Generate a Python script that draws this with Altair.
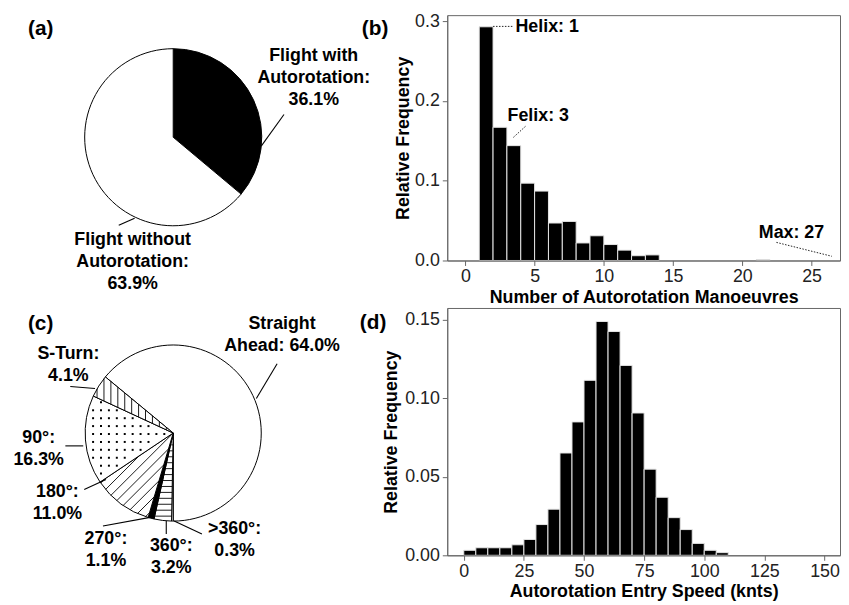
import math
import numpy as np
import pandas as pd
import altair as alt

# ---------------- data ----------------
# (a) share of flights
a_cats = ["Flight with Autorotation", "Flight without Autorotation"]
a_vals = [36.1, 63.9]
a_labels = ["Flight with\nAutorotation:\n36.1%", "Flight without\nAutorotation:\n63.9%"]

# (b) number of autorotation manoeuvres per flight
b_bin_start = [1, 2, 3, 4, 5, 6, 7, 8, 9, 10, 11, 12, 13, 21]
b_freq = [0.293, 0.167, 0.144, 0.097, 0.087, 0.047, 0.049, 0.022, 0.031, 0.020, 0.013, 0.006, 0.007, 0.001]
b_bin_width = 1
b_ticks = [0, 5, 10, 15, 20, 25]
b_yticks = [0.0, 0.1, 0.2, 0.3]
b_notes = ["Helix: 1", "Felix: 3", "Max: 27"]

# (c) manoeuvre type
c_cats = ["Straight Ahead", ">360°", "360°", "270°", "180°", "90°", "S-Turn"]
c_vals = [64.0, 0.3, 3.2, 1.1, 11.0, 16.3, 4.1]
c_labels = ["Straight\nAhead: 64.0%", ">360°:\n0.3%", "360°:\n3.2%", "270°:\n1.1%",
            "180°:\n11.0%", "90°:\n16.3%", "S-Turn:\n4.1%"]

# (d) autorotation entry speed
d_bin_start = list(range(0, 110, 5))
d_freq = [0.0032, 0.0048, 0.0048, 0.0048, 0.0067, 0.0101, 0.0196, 0.0294, 0.0652, 0.0850,
          0.1115, 0.1490, 0.1426, 0.1210, 0.0907, 0.0549, 0.0370, 0.0240, 0.0164, 0.0076,
          0.0032, 0.0017]
d_bin_width = 5
d_ticks = [0, 25, 50, 75, 100, 125, 150]
d_yticks = [0.00, 0.05, 0.10, 0.15]

# ---------------- layout / annotation placement ----------------
FONT = "Liberation Sans"
LEFT_W = 443
RIGHT_W = 397
TOP_H = 248
BOT_H = 250

a_fills = ["black", "white"]
# label anchors (centre of first text line), in pie-radius units from the pie centre
a_label_xy = [(1.587, 0.916), (-0.458, -1.162)]
a_leaders = [(0.994, -0.101, 1.251, 0.257), (-0.615, -0.994, -0.436, -0.916)]

c_fills = ["white", "white", "white", "black", "white", "white", "white"]
c_label_xy = [(1.236, 1.236), (0.697, -1.090), (-0.022, -1.281), (-0.764, -1.202),
              (-1.315, -0.674), (-1.528, -0.056), (-1.191, 0.899)]
c_leaders = [(0.944, 0.393, 1.180, 0.787), (0.011, -1.0, 0.326, -1.146),
             (-0.079, -1.0, -0.079, -1.146), (-0.798, -1.056, -0.247, -0.955),
             (-1.011, -0.640, -0.764, -0.528), (-1.225, -0.146, -1.022, -0.146),
             (-1.169, 0.528, -0.888, 0.506)]
# pattern per slice: (kind, angle of lines in deg, spacing in px)
c_patterns = {"360°": ("lines", 0, 6), "180°": ("lines", 45, 8),
              "S-Turn": ("lines", 90, 7), "90°": ("dots", 0, 8)}


def wedge_mask(px, py, a0, a1, margin=0.0):
    r = np.hypot(px, py)
    th = np.degrees(np.arctan2(px, py)) % 360
    ok = (r <= 1 - margin) & (th >= a0) & (th <= a1)
    if margin > 0:
        d0 = r * np.sin(np.radians(np.clip(th - a0, 0, 90)))
        d1 = r * np.sin(np.radians(np.clip(a1 - th, 0, 90)))
        ok &= (d0 >= margin) & (d1 >= margin)
    return ok


def hatch_lines(a0, a1, ang, spacing):
    d = np.array([math.cos(math.radians(ang)), math.sin(math.radians(ang))])
    n = np.array([-d[1], d[0]])
    t = np.linspace(-1.05, 1.05, 4201)
    segs = []
    kmax = int(1.1 / spacing) + 2
    for k in range(-kmax, kmax + 1):
        c = k * spacing
        px = n[0] * c + d[0] * t
        py = n[1] * c + d[1] * t
        m = wedge_mask(px, py, a0, a1)
        if m.sum() >= 3:
            i0 = int(np.argmax(m))
            i1 = len(m) - 1 - int(np.argmax(m[::-1]))
            segs.append((px[i0], py[i0], px[i1], py[i1]))
    return segs


def dot_grid(a0, a1, spacing, margin):
    g = np.arange(-1.0, 1.0 + 1e-9, spacing)
    X, Y = np.meshgrid(g, g)
    m = wedge_mask(X, Y, a0, a1, margin)
    return X[m], Y[m]


def pie_panel(cats, vals, fills, start_deg, labels, label_xy, leaders, patterns,
              W, H, cx, cy, R, tag, tag_xy):
    xs = alt.Scale(domain=[-cx / R, (W - cx) / R], nice=False, zero=False)
    ys = alt.Scale(domain=[-(H - cy) / R, cy / R], nice=False, zero=False)
    cum = np.concatenate([[0.0], np.cumsum(vals)])
    df = pd.DataFrame({"cat": cats, "t0": cum[:-1], "t1": cum[1:],
                       "cx": 0.0, "cy": 0.0})
    s = math.radians(start_deg)
    arc = alt.Chart(df).mark_arc(radius=R, stroke="black", strokeWidth=1).encode(
        x=alt.X("cx:Q", scale=xs, axis=None),
        y=alt.Y("cy:Q", scale=ys, axis=None),
        theta=alt.Theta("t0:Q", scale=alt.Scale(domain=[0, float(cum[-1])],
                                               range=[s, s + 2 * math.pi]), stack=None),
        theta2="t1:Q",
        fill=alt.Fill("cat:N", scale=alt.Scale(domain=cats, range=fills), legend=None),
    )
    layers = [arc]
    segs, dots_x, dots_y = [], [], []
    for i, cname in enumerate(cats):
        if cname not in patterns:
            continue
        a0 = (start_deg + 360 * cum[i] / cum[-1]) % 360
        a1 = a0 + 360 * vals[i] / cum[-1]
        kind, ang, sp = patterns[cname]
        if kind == "lines":
            segs += hatch_lines(a0, a1, ang, sp / R)
        else:
            gx, gy = dot_grid(a0, a1, sp / R, 2.5 / R)
            dots_x += list(gx)
            dots_y += list(gy)
    if segs:
        hdf = pd.DataFrame(segs, columns=["x", "y", "x2", "y2"])
        layers.append(alt.Chart(hdf).mark_rule(color="black", strokeWidth=0.9).encode(
            x=alt.X("x:Q", scale=xs), y=alt.Y("y:Q", scale=ys), x2="x2:Q", y2="y2:Q"))
    if dots_x:
        ddf = pd.DataFrame({"x": dots_x, "y": dots_y})
        layers.append(alt.Chart(ddf).mark_square(size=4, color="black", opacity=1).encode(
            x=alt.X("x:Q", scale=xs), y=alt.Y("y:Q", scale=ys)))
    ldf = pd.DataFrame(leaders, columns=["x", "y", "x2", "y2"])
    layers.append(alt.Chart(ldf).mark_rule(color="black", strokeWidth=1.1).encode(
        x=alt.X("x:Q", scale=xs), y=alt.Y("y:Q", scale=ys), x2="x2:Q", y2="y2:Q"))
    tdf = pd.DataFrame({"t": labels, "x": [p[0] for p in label_xy], "y": [p[1] for p in label_xy]})
    layers.append(alt.Chart(tdf).mark_text(font=FONT, fontSize=18, fontWeight="bold",
                                           lineBreak="\n", lineHeight=22, align="center",
                                           baseline="middle", color="black").encode(
        x=alt.X("x:Q", scale=xs), y=alt.Y("y:Q", scale=ys), text="t:N"))
    gdf = pd.DataFrame({"t": [tag], "x": [tag_xy[0]], "y": [tag_xy[1]]})
    layers.append(alt.Chart(gdf).mark_text(font=FONT, fontSize=21, fontWeight="bold",
                                           align="center", baseline="middle", color="black").encode(
        x=alt.X("x:Q", scale=xs), y=alt.Y("y:Q", scale=ys), text="t:N"))
    return alt.layer(*layers).properties(width=W, height=H)


def hist_panel(starts, freqs, bw, xdom, ydom, xticks, yticks, yfmt, xtitle, W, H,
               tag, tag_px, notes=None, note_xy=None, note_lines=None, ytitle_pad=3):
    xs = alt.Scale(domain=xdom, nice=False, zero=False)
    ys = alt.Scale(domain=ydom, nice=False, zero=False)
    df = pd.DataFrame({"x0": starts, "x1": [s + bw for s in starts], "f": freqs})
    bars = alt.Chart(df).mark_rect(fill="black", stroke="#e6e6e6", strokeWidth=1).encode(
        x=alt.X("x0:Q", scale=xs, axis=alt.Axis(values=xticks, title=xtitle, zindex=1,
                                                  labelPadding=2, titlePadding=3)),
        x2="x1:Q",
        y=alt.Y("f:Q", scale=ys, axis=alt.Axis(values=yticks, format=yfmt,
                                                title="Relative Frequency", zindex=1,
                                                labelPadding=3, titlePadding=ytitle_pad)),
        y2=alt.datum(0),
    )
    layers = [bars]
    if notes:
        ndf = pd.DataFrame({"t": notes, "x": [p[0] for p in note_xy], "y": [p[1] for p in note_xy]})
        layers.append(alt.Chart(ndf).mark_text(font=FONT, fontSize=18, fontWeight="bold",
                                               align="left", baseline="middle", color="black").encode(
            x=alt.X("x:Q", scale=xs), y=alt.Y("y:Q", scale=ys), text="t:N"))
        sdf = pd.DataFrame(note_lines, columns=["x", "y", "x2", "y2"])
        layers.append(alt.Chart(sdf).mark_rule(color="#222", strokeWidth=1, strokeDash=[1.5, 1.5]).encode(
            x=alt.X("x:Q", scale=xs), y=alt.Y("y:Q", scale=ys), x2="x2:Q", y2="y2:Q"))
    gdf = pd.DataFrame({"t": [tag]})
    layers.append(alt.Chart(gdf).mark_text(font=FONT, fontSize=21, fontWeight="bold",
                                           align="center", baseline="middle", color="black").encode(
        text="t:N", x=alt.value(tag_px[0]), y=alt.value(tag_px[1])))
    return alt.layer(*layers).properties(
        width=W, height=H, view=alt.ViewBackground(stroke="#666", strokeWidth=1))


panel_a = pie_panel(a_cats, a_vals, a_fills, 0.0, a_labels, a_label_xy, a_leaders, {},
                    LEFT_W, TOP_H, 166, 123.4, 89.5, "(a)", (-1.497, 1.218))

panel_b = hist_panel(b_bin_start, b_freq, b_bin_width, [-1.307, 27.05], [0, 0.3076],
                     b_ticks, b_yticks, ".1f", "Number of Autorotation Manoeuvres",
                     RIGHT_W, TOP_H, "(b)", (-73, 14.4),
                     notes=b_notes,
                     note_xy=[(3.62, 0.2922), (3.05, 0.1817), (21.19, 0.0339)],
                     note_lines=[(2.0, 0.2935, 3.5, 0.2935), (3.47, 0.1544, 4.41, 0.1693),
                                 (22.46, 0.0227, 26.46, 0.0053)],
                     ytitle_pad=2)

c_start = 180 - 360 * c_vals[0] / sum(c_vals)
panel_c = pie_panel(c_cats, c_vals, c_fills, c_start, c_labels, c_label_xy, c_leaders, c_patterns,
                    LEFT_W, BOT_H, 166, 126.4, 89.0, "(c)", (-1.506, 1.236))

panel_d = hist_panel(d_bin_start, d_freq, d_bin_width, [-6.87, 156.46], [0, 0.1576],
                     d_ticks, d_yticks, ".2f", "Autorotation Entry Speed (knts)",
                     RIGHT_W, BOT_H, "(d)", (-75, 15.4), ytitle_pad=4)

chart = alt.concat(panel_a, panel_b, panel_c, panel_d, columns=2,
                   spacing={"row": 48, "column": 0}, bounds="flush").resolve_scale(
    fill="independent", theta="independent"
).properties(
    padding=0
).configure(font=FONT).configure_view(stroke="transparent").configure_axis(
    grid=False, domainColor="#666", tickColor="#666", tickSize=5,
    labelFont=FONT, labelFontSize=18, labelColor="#222",
    titleFont=FONT, titleFontSize=18, titleFontWeight="bold", titleColor="black",
)

chart.save("out.html", embed_options={"renderer": "svg", "actions": False})
